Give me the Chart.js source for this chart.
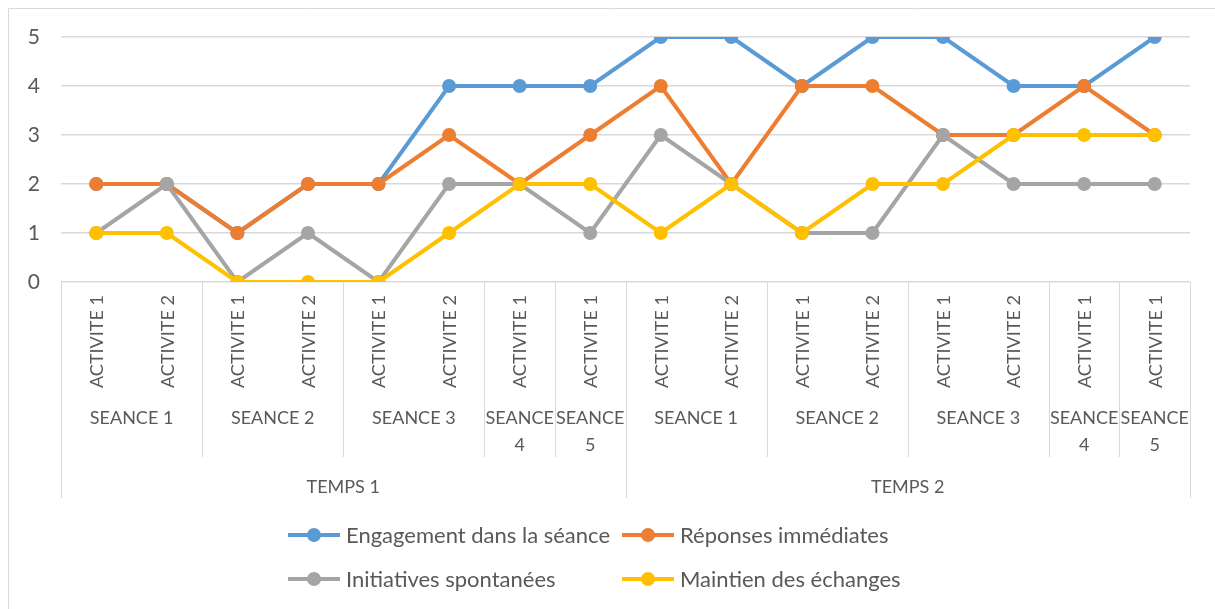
<!DOCTYPE html>
<html>
<head>
<meta charset="utf-8">
<script src="https://cdn.jsdelivr.net/npm/chart.js@4"></script>
<style>
  html, body { margin: 0; padding: 0; background: #fff; }
  #wrap { width: 1215px; height: 609px; position: relative; }
</style>
</head>
<body>
<div id="wrap"><canvas id="activityChart"></canvas></div>
<script>
// Category levels (bottom-up: activity, seance, temps)
const activities = [
  'ACTIVITE 1', 'ACTIVITE 2', 'ACTIVITE 1', 'ACTIVITE 2', 'ACTIVITE 1', 'ACTIVITE 2', 'ACTIVITE 1', 'ACTIVITE 1',
  'ACTIVITE 1', 'ACTIVITE 2', 'ACTIVITE 1', 'ACTIVITE 2', 'ACTIVITE 1', 'ACTIVITE 2', 'ACTIVITE 1', 'ACTIVITE 1'
];
const seanceLabels = ['SEANCE 1', 'SEANCE 2', 'SEANCE 3', 'SEANCE 4', 'SEANCE 5', 'SEANCE 1', 'SEANCE 2', 'SEANCE 3', 'SEANCE 4', 'SEANCE 5'];
const seanceSpans = [2, 2, 2, 1, 1, 2, 2, 2, 1, 1];
const tempsLabels = ['TEMPS 1', 'TEMPS 2'];
const tempsSpans = [8, 8];

// Series
const seriesNames = ['Engagement dans la séance', 'Réponses immédiates', 'Initiatives spontanées', 'Maintien des échanges'];
const engagement = [2, 2, 1, 2, 2, 4, 4, 4, 5, 5, 4, 5, 5, 4, 4, 5];
const reponses   = [2, 2, 1, 2, 2, 3, 2, 3, 4, 2, 4, 4, 3, 3, 4, 3];
const initiatives = [1, 2, 0, 1, 0, 2, 2, 1, 3, 2, 1, 1, 3, 2, 2, 2];
const maintien   = [1, 1, 0, 0, 0, 1, 2, 2, 1, 2, 1, 2, 2, 3, 3, 3];
const yTicks = [0, 1, 2, 3, 4, 5];

const colors = ['#5b9bd5', '#ed7d31', '#a5a5a5', '#ffc000'];
const textColor = '#595959';
const lineColor = '#d9d9d9';
const fontFamily = "Lato, 'Open Sans', sans-serif";

function makeSet(i, values) {
  return {
    label: seriesNames[i],
    data: values,
    borderColor: colors[i],
    backgroundColor: colors[i],
    borderWidth: 4,
    pointRadius: 7,
    pointHoverRadius: 7,
    pointBorderWidth: 0,
    tension: 0,
    order: 4 - i // later series on top, like the original
  };
}

// Draws the multi-level category table, the legend and the outer frame
const tablePlugin = {
  id: 'tablePlugin',
  afterDraw(chart) {
    const ctx = chart.ctx;
    const x = chart.scales.x;
    const area = chart.chartArea;
    const n = activities.length;
    const w = (x.right - x.left) / n;
    const edge = i => x.getPixelForValue(i) - w / 2;

    ctx.save();
    ctx.strokeStyle = lineColor;
    ctx.lineWidth = 1;
    ctx.fillStyle = textColor;

    // outer frame (top and left visible)
    ctx.beginPath();
    ctx.moveTo(8.5, 609);
    ctx.lineTo(8.5, 8.5);
    ctx.lineTo(1215, 8.5);
    ctx.stroke();

    // activity labels, rotated
    ctx.font = '18px ' + fontFamily;
    ctx.textBaseline = 'middle';
    ctx.textAlign = 'left';
    activities.forEach((a, i) => {
      ctx.save();
      ctx.translate(x.getPixelForValue(i) + 1, area.bottom + 106);
      ctx.rotate(-Math.PI / 2);
      ctx.fillText(a, 0, 0);
      ctx.restore();
    });

    // seance level
    let start = 0;
    ctx.textAlign = 'center';
    seanceLabels.forEach((s, k) => {
      const l = edge(start), r = edge(start + seanceSpans[k]);
      ctx.beginPath();
      ctx.moveTo(Math.round(r) + 0.5, area.bottom);
      ctx.lineTo(Math.round(r) + 0.5, area.bottom + 175);
      ctx.stroke();
      const cx = (l + r) / 2;
      if (ctx.measureText(s).width > r - l - 2) {
        const parts = s.split(' ');
        ctx.fillText(parts[0], cx, area.bottom + 136);
        ctx.fillText(parts[1], cx, area.bottom + 163);
      } else {
        ctx.fillText(s, cx, area.bottom + 136);
      }
      start += seanceSpans[k];
    });

    // temps level
    start = 0;
    ctx.beginPath();
    ctx.moveTo(Math.round(edge(0)) + 0.5, area.bottom);
    ctx.lineTo(Math.round(edge(0)) + 0.5, area.bottom + 216);
    ctx.stroke();
    tempsLabels.forEach((t, k) => {
      const l = edge(start), r = edge(start + tempsSpans[k]);
      ctx.beginPath();
      ctx.moveTo(Math.round(r) + 0.5, area.bottom);
      ctx.lineTo(Math.round(r) + 0.5, area.bottom + 216);
      ctx.stroke();
      ctx.fillText(t, (l + r) / 2, area.bottom + 205);
      start += tempsSpans[k];
    });

    // legend, 2 columns
    ctx.font = '22px ' + fontFamily;
    ctx.textAlign = 'left';
    const colX = [288, 622];
    const rowY = [535, 579];
    chart.data.datasets.forEach((ds, i) => {
      const lx = colX[i % 2], ly = rowY[Math.floor(i / 2)];
      ctx.strokeStyle = ds.borderColor;
      ctx.lineWidth = 4;
      ctx.beginPath();
      ctx.moveTo(lx, ly);
      ctx.lineTo(lx + 52, ly);
      ctx.stroke();
      ctx.fillStyle = ds.borderColor;
      ctx.beginPath();
      ctx.arc(lx + 26, ly, 7, 0, Math.PI * 2);
      ctx.fill();
      ctx.fillStyle = textColor;
      ctx.fillText(ds.label, lx + 58, ly + 1);
    });
    ctx.restore();
  }
};

document.addEventListener('DOMContentLoaded', () => {
  const ctx = document.getElementById('activityChart').getContext('2d');
  new Chart(ctx, {
    type: 'line',
    data: {
      labels: activities,
      datasets: [
        makeSet(0, engagement),
        makeSet(1, reponses),
        makeSet(2, initiatives),
        makeSet(3, maintien)
      ]
    },
    options: {
      responsive: true,
      maintainAspectRatio: false,
      animation: false,
      layout: { padding: { left: 0, top: 37, right: 25, bottom: 327 } },
      scales: {
        x: {
          type: 'category',
          offset: true,
          display: false
        },
        y: {
          min: 0,
          max: 5,
          afterFit: scale => { scale.width = 61; },
          afterBuildTicks: scale => { scale.ticks = yTicks.map(v => ({ value: v })); },
          grid: { color: lineColor, lineWidth: 1.5, drawTicks: false },
          border: { display: false },
          ticks: {
            padding: 21,
            color: textColor,
            font: { size: 21, family: fontFamily }
          }
        }
      },
      plugins: {
        legend: { display: false },
        tooltip: { enabled: false }
      }
    },
    plugins: [tablePlugin]
  });
});
</script>
</body>
</html>
